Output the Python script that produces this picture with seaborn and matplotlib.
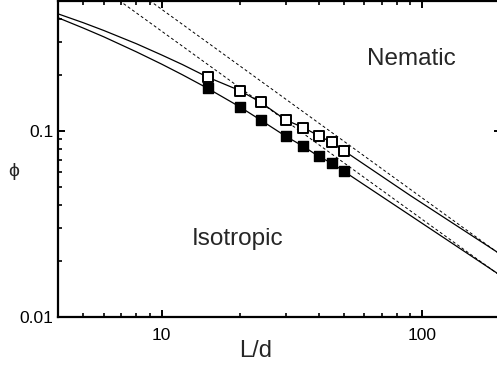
import matplotlib
matplotlib.use("Agg")
import matplotlib.pyplot as plt
from matplotlib.ticker import FixedLocator, FixedFormatter, LogLocator, NullFormatter
import seaborn as sns
import pandas as pd

# Simulation points: coexistence volume fractions vs aspect ratio
L_over_d = [15, 20, 24, 30, 35, 40, 45, 50]
phi_nematic = [0.194, 0.164, 0.142, 0.114, 0.104, 0.094, 0.0866, 0.0782]
phi_isotropic = [0.169, 0.134, 0.114, 0.0932, 0.0824, 0.0729, 0.0669, 0.0606]

# Theory curves (solid)
L_curve = [4, 5, 6, 8, 10, 12, 15, 20, 24, 30, 35, 40, 45, 50, 90, 200]
phi_curve_nematic = [0.424, 0.380, 0.345, 0.293, 0.255, 0.2267, 0.194, 0.164,
                     0.142, 0.114, 0.104, 0.094, 0.0866, 0.0782, 0.0449, 0.0217]
phi_curve_isotropic = [0.404, 0.3557, 0.319, 0.265, 0.2277, 0.1998, 0.169, 0.134,
                       0.114, 0.0932, 0.0824, 0.0729, 0.0669, 0.0606, 0.0351, 0.0167]

# Long-rod (Onsager) limits (dashed straight lines)
L_onsager_nematic = [8.98, 200]
phi_onsager_nematic = [0.5, 0.0216]
L_onsager_isotropic = [6.87, 200]
phi_onsager_isotropic = [0.5, 0.0166]

sns.set_style("ticks")
plt.rcParams["font.family"] = ["Liberation Sans", "DejaVu Sans"]

fig = plt.figure(figsize=(4.97, 3.67), dpi=100)
ax = fig.add_axes([58 / 497, 1 - 317 / 367, 442.6 / 497, 316.5 / 367])

dash_kw = dict(color="black", linewidth=0.7, dashes=(3, 2.5), estimator=None, sort=False)
sns.lineplot(x=L_onsager_nematic, y=phi_onsager_nematic, ax=ax, **dash_kw)
sns.lineplot(x=L_onsager_isotropic, y=phi_onsager_isotropic, ax=ax, **dash_kw)

solid_kw = dict(color="black", linewidth=0.9, estimator=None, sort=False)
sns.lineplot(x=L_curve, y=phi_curve_nematic, ax=ax, **solid_kw)
sns.lineplot(x=L_curve, y=phi_curve_isotropic, ax=ax, **solid_kw)

df = pd.DataFrame({"L": L_over_d, "nem": phi_nematic, "iso": phi_isotropic})
sns.scatterplot(data=df, x="L", y="nem", ax=ax, marker="s", s=42,
                facecolor="white", edgecolor="black", linewidth=1.4, zorder=5)
sns.scatterplot(data=df, x="L", y="iso", ax=ax, marker="s", s=42,
                facecolor="black", edgecolor="black", linewidth=1.0, zorder=5)

ax.set_xscale("log")
ax.set_yscale("log")
ax.set_xlim(4, 200)
ax.set_ylim(0.01, 0.5)

ax.xaxis.set_major_locator(FixedLocator([10, 100]))
ax.xaxis.set_major_formatter(FixedFormatter(["10", "100"]))
ax.xaxis.set_minor_locator(LogLocator(base=10, subs=range(2, 10)))
ax.xaxis.set_minor_formatter(NullFormatter())
ax.yaxis.set_major_locator(FixedLocator([0.01, 0.1]))
ax.yaxis.set_major_formatter(FixedFormatter(["0.01", "0.1"]))
ax.yaxis.set_minor_locator(LogLocator(base=10, subs=range(2, 10)))
ax.yaxis.set_minor_formatter(NullFormatter())

for side in ["left", "right", "top", "bottom"]:
    ax.spines[side].set_visible(True)
    ax.spines[side].set_linewidth(1.6)
    ax.spines[side].set_color("black")

ax.tick_params(which="both", direction="in", top=True, right=True,
               color="black", labelsize=12.5, labelcolor="black")
ax.tick_params(which="major", length=5, width=1.4)
ax.tick_params(which="minor", length=3, width=1.2)
ax.tick_params(axis="x", which="major", pad=8)
ax.tick_params(axis="y", which="major", pad=3.5)

ax.set_xlabel("L/d", fontsize=17, va="baseline", ha="center")
ax.xaxis.set_label_coords(0.446, -0.126)
ax.set_ylabel("\u03d5", fontsize=14, rotation=0, va="center", ha="center")
ax.yaxis.set_label_coords(-0.099, 0.46)

ax.text(0.698, 0.795, "Nematic", transform=ax.transAxes, fontsize=17.5,
        ha="left", va="baseline")
ax.text(0.3028, 0.227, "Isotropic", transform=ax.transAxes, fontsize=17.5,
        ha="left", va="baseline")

fig.savefig("out.png", dpi=100, facecolor="white")
